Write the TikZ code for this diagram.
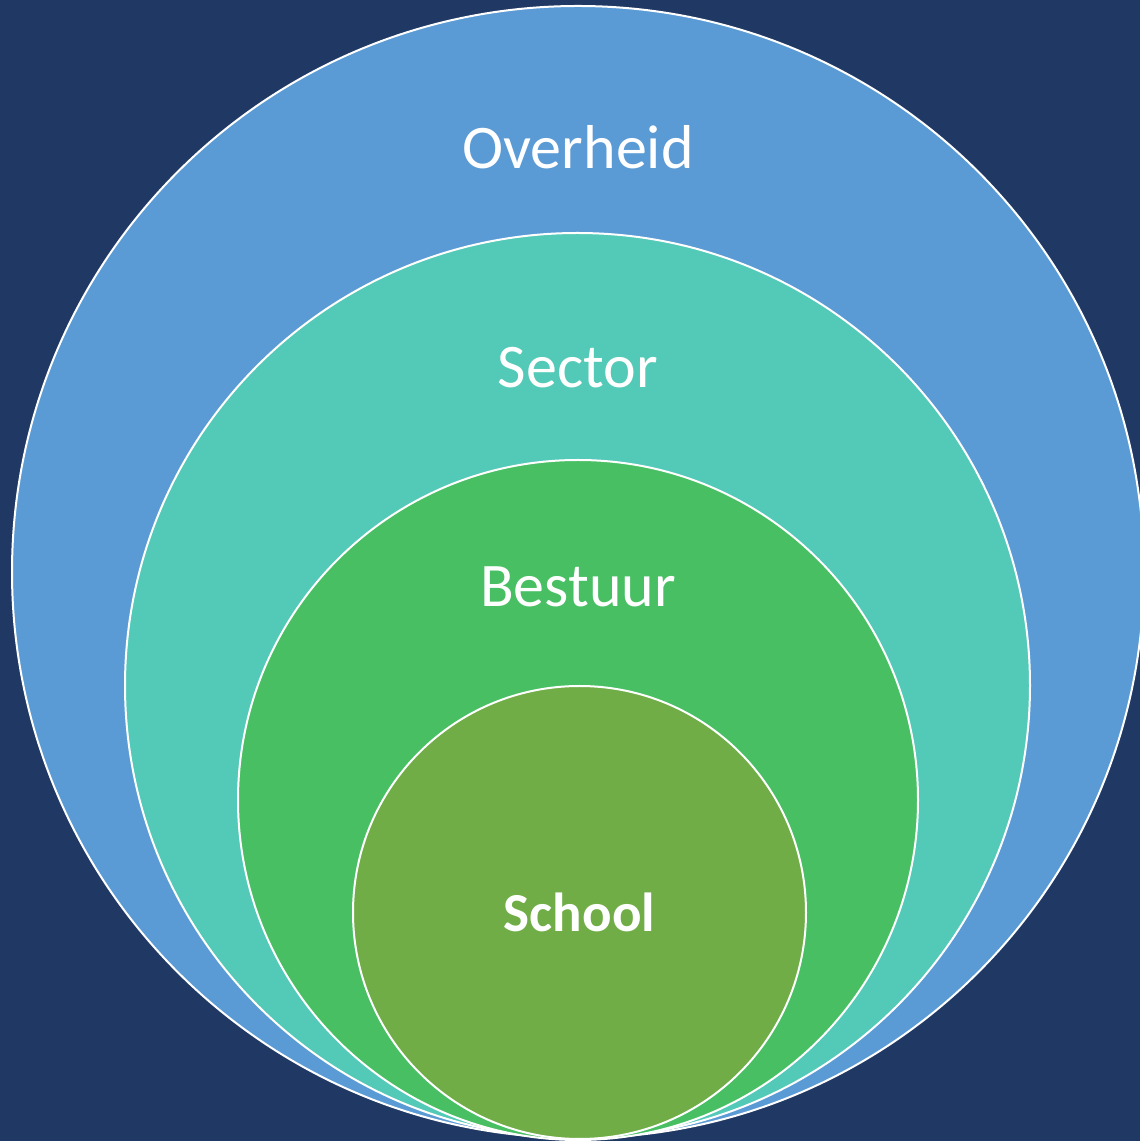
\documentclass[tikz,border=0pt]{standalone}
\usepackage{fontspec}
\setmainfont{Carlito}
\definecolor{bgnavy}{HTML}{203864}
\definecolor{cblue}{HTML}{5B9BD5}
\definecolor{cteal}{HTML}{53C9B7}
\definecolor{cgreen}{HTML}{48BF63}
\definecolor{colive}{HTML}{70AD47}
\begin{document}
\begin{tikzpicture}[x=1pt,y=1pt,
  ring/.style={circle,draw=white,line width=2pt,inner sep=0pt,outer sep=0pt},
  lbl/.style={text=white,font=\fontsize{62}{70}\selectfont,inner sep=0pt}]
\path[fill=bgnavy,use as bounding box] (0,0) rectangle (1140,1141);
\begin{scope}
\clip (0,0) rectangle (1140,1141);
\node[ring,fill=cblue,minimum size=1132pt] (overheid) at (578,569) {};
\node[ring,fill=cteal,minimum size=905pt] (sector) at (577.5,455.5) {};
\node[ring,fill=cgreen,minimum size=680pt] (bestuur) at (578,341) {};
\node[ring,fill=colive,minimum size=453pt] (school) at (579.5,228.5) {};
\end{scope}
\node[lbl] (t1) at (578,994) {Overheid};
\node[lbl] (t2) at (578,773) {Sector};
\node[lbl] (t3) at (578,554) {Bestuur};
\node[lbl,font=\fontsize{55}{62}\selectfont\bfseries] (t4) at (579.5,229) {School};
\end{tikzpicture}
\end{document}
